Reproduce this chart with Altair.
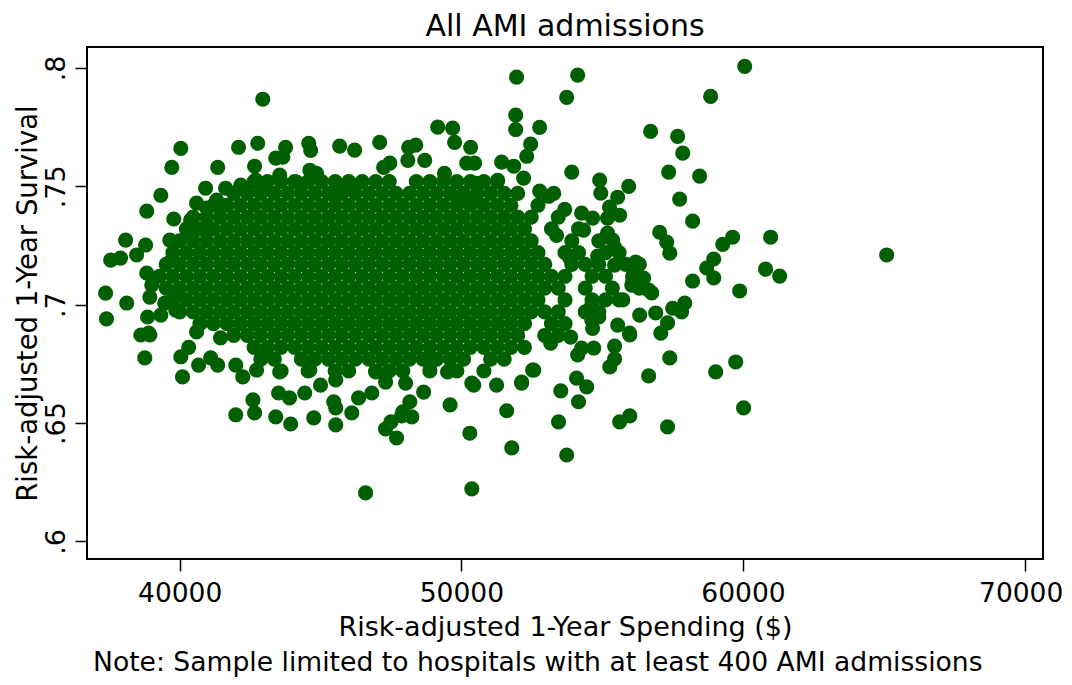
import altair as alt
import pandas as pd

FONT = "DejaVu Sans"
GREEN = "#005f00"

title_text = "All AMI admissions"
x_title = "Risk-adjusted 1-Year Spending ($)"
y_title = "Risk-adjusted 1-Year Survival"
note_text = "Note: Sample limited to hospitals with at least 400 AMI admissions"

x_ticks = [40000, 50000, 60000, 70000]
y_ticks = [0.6, 0.65, 0.7, 0.75, 0.8]

# dense core of the cloud, read row by row: (survival, [spending ...])
core_rows = [
    (0.752, [42640, 43120, 43600, 44080, 44560, 45040, 45520, 46000, 46480, 46960, 47440,
             48400, 48880, 49360, 49840, 50320, 50800, 51280]),
    (0.747, [41920, 42400, 42880, 43360, 43840, 44320, 44800, 45280, 45760, 46240, 46720,
             47200, 47680, 48160, 48640, 49120, 49600, 50080, 50560, 51040, 51520, 52000]),
    (0.742, [41200, 41680, 42160, 42640, 43120, 43600, 44080, 44560, 45040, 45520, 46000, 46480,
             46960, 47440, 47920, 48400, 48880, 49360, 49840, 50320, 50800, 51280, 51760, 52720]),
    (0.737, [40480, 40960, 41440, 41920, 42400, 42880, 43360, 43840, 44320, 44800, 45280, 45760, 46240,
             46720, 47200, 47680, 48160, 48640, 49120, 49600, 50080, 50560, 51040, 51520, 52000, 52480,
             53440]),
    (0.732, [40240, 40720, 41200, 41680, 42160, 42640, 43120, 43600, 44080, 44560, 45040, 45520, 46000,
             46480, 46960, 47440, 47920, 48400, 48880, 49360, 49840, 50320, 50800, 51280, 51760, 52240,
             53200, 54160]),
    (0.727, [40000, 40480, 40960, 41440, 41920, 42400, 42880, 43360, 43840, 44320, 44800, 45280, 45760,
             46240, 46720, 47200, 47680, 48160, 48640, 49120, 49600, 50080, 50560, 51040, 51520, 52000,
             52480, 53920, 54880]),
    (0.722, [39760, 40240, 40720, 41200, 41680, 42160, 42640, 43120, 43600, 44080, 44560, 45040, 45520,
             46000, 46480, 46960, 47440, 47920, 48400, 48880, 49360, 49840, 50320, 50800, 51280, 51760,
             52240, 52720, 53680, 54160, 55120, 55600]),
    (0.717, [39520, 40000, 40480, 40960, 41440, 41920, 42400, 42880, 43360, 43840, 44320, 44800, 45280,
             45760, 46240, 46720, 47200, 47680, 48160, 48640, 49120, 49600, 50080, 50560, 51040, 51520,
             52000, 52480, 52960, 53920, 54400, 54880, 55840, 56320]),
    (0.712, [39280, 39760, 40240, 40720, 41200, 41680, 42160, 42640, 43120, 43600, 44080, 44560, 45040,
             45520, 46000, 46480, 46960, 47440, 47920, 48400, 48880, 49360, 49840, 50320, 50800, 51280,
             51760, 52240, 52720, 53200, 53680, 54640, 55120, 56080]),
    (0.707, [39520, 40000, 40480, 40960, 41440, 41920, 42400, 42880, 43360, 43840, 44320, 44800, 45280,
             45760, 46240, 46720, 47200, 47680, 48160, 48640, 49120, 49600, 50080, 50560, 51040, 51520,
             52000, 52480, 52960, 53440, 54400, 55360, 56320]),
    (0.702, [39760, 40240, 40720, 41200, 41680, 42160, 42640, 43120, 43600, 44080, 44560, 45040, 45520,
             46000, 46480, 46960, 47440, 47920, 48400, 48880, 49360, 49840, 50320, 50800, 51280, 51760,
             52240, 52720, 53680, 54640, 55120, 55600]),
    (0.697, [40000, 40480, 40960, 41440, 41920, 42400, 42880, 43360, 43840, 44320, 44800, 45280, 45760,
             46240, 46720, 47200, 47680, 48160, 48640, 49120, 49600, 50080, 50560, 51040, 51520, 52000,
             52480, 52960, 53440, 54400, 54880]),
    (0.692, [40720, 41200, 41680, 42160, 42640, 43120, 43600, 44080, 44560, 45040, 45520, 46000, 46480,
             46960, 47440, 47920, 48400, 48880, 49360, 49840, 50320, 50800, 51280, 51760, 52240, 53200,
             53680]),
    (0.687, [41920, 42400, 42880, 43360, 43840, 44320, 44800, 45280, 45760, 46240, 46720, 47200, 47680,
             48160, 48640, 49120, 49600, 50080, 50560, 51040, 51520, 52000, 52960, 53440]),
    (0.682, [42640, 43120, 43600, 44080, 44560, 45040, 45520, 46000, 46480, 46960, 47440, 47920, 48400,
             48880, 49360, 49840, 50320, 50800, 51280, 51760, 52240]),
    (0.677, [42880, 43360, 44320, 44800, 45280, 45760, 46240, 46720, 47200, 47680, 48160, 48640, 49120,
             49600, 50080, 51040, 51520]),
    (0.672, [43600, 44560, 45520, 46000, 46960, 47440, 47920, 48880, 49840, 50800]),
]

# scattered hospitals around the core: (spending, survival)
fringe = [
    (60060, 0.8007), (54130, 0.7970), (51960, 0.7961), (42950, 0.7868), (53740, 0.7876), (58850, 0.7880),
    (51930, 0.7801), (52780, 0.7749), (51930, 0.7740), (52460, 0.7678), (52320, 0.7627),
    (49160, 0.7750), (49690, 0.7746), (49760, 0.7686), (50330, 0.7665),
    (56720, 0.7732), (57680, 0.7711), (57860, 0.7640), (57360, 0.7560), (58460, 0.7543), (57750, 0.7446),
    (58210, 0.7353),
    (53920, 0.7560), (54910, 0.7526), (55940, 0.7500), (54950, 0.7471), (55550, 0.7454), (53100, 0.7458),
    (53670, 0.7403), (55260, 0.7412), (55620, 0.7378), (54270, 0.7387), (54660, 0.7366), (55190, 0.7366),
    (54340, 0.7315), (53380, 0.7293), (55190, 0.7302), (55370, 0.7273), (55440, 0.7243),
    (57040, 0.7306), (57290, 0.7264), (57400, 0.7218),
    (59630, 0.7285), (59280, 0.7255), (60980, 0.7285), (58960, 0.7193), (58710, 0.7155), (58960, 0.7113),
    (60800, 0.7150), (61300, 0.7121), (65100, 0.7210), (58210, 0.7100), (59880, 0.7058),
    (57930, 0.7007), (57820, 0.6970), (57500, 0.6985), (57320, 0.6923), (57080, 0.6880),
    (56330, 0.6956), (56900, 0.6965), (55970, 0.6880), (55550, 0.6914), (54660, 0.6900),
    (56760, 0.7050), (56470, 0.7112), (56080, 0.7096), (55730, 0.7020), (54880, 0.6948), (54630, 0.6998),
    (56190, 0.7180), (53850, 0.7197), (54840, 0.7205), (55440, 0.7167), (56050, 0.7083), (56650, 0.7062),
    (54630, 0.6935), (55440, 0.6825), (55440, 0.6771), (54700, 0.6817), (54270, 0.6817), (54130, 0.6788),
    (57400, 0.6775), (59740, 0.6758), (59030, 0.6716), (56650, 0.6699), (55270, 0.6737),
    (54090, 0.6690), (54450, 0.6653), (53530, 0.6636), (54160, 0.6590), (53450, 0.6505),
    (55620, 0.6505), (55980, 0.6530), (57320, 0.6484), (53740, 0.6365), (60020, 0.6564),
    (52530, 0.6724), (53170, 0.6838), (53880, 0.6863), (55980, 0.6872), (52140, 0.6673),
    (51790, 0.6395), (51610, 0.6552), (50440, 0.6660), (51250, 0.6660), (49510, 0.6716), (48910, 0.6754),
    (50300, 0.6457), (50370, 0.6222), (49600, 0.6577),
    (48240, 0.6526), (47880, 0.6530), (47500, 0.6505), (47310, 0.6475), (47700, 0.6437), (48170, 0.6590),
    (47920, 0.6547), (48020, 0.6669), (48660, 0.6631), (47310, 0.6673), (46960, 0.6716),
    (46600, 0.6205), (46350, 0.6606), (46820, 0.6627), (46110, 0.6543),
    (45540, 0.6682), (45470, 0.6590), (45540, 0.6564), (45540, 0.6492), (45000, 0.6660), (44620, 0.6724),
    (44760, 0.6522), (44440, 0.6627), (43940, 0.6496), (43900, 0.6606), (43510, 0.6627), (43410, 0.6526),
    (43550, 0.6716), (43090, 0.6788), (42730, 0.6724), (42600, 0.6598), (42660, 0.6543), (41990, 0.6535),
    (42240, 0.6695), (41990, 0.6745), (41350, 0.6745), (41100, 0.6775), (40670, 0.6745), (40320, 0.6820),
    (40040, 0.6780), (40100, 0.6695), (40600, 0.6885), (41450, 0.6860),
    (38760, 0.6775), (38620, 0.6872), (38940, 0.6872),
    (40040, 0.7660), (39720, 0.7580), (39330, 0.7462), (38830, 0.7395), (39790, 0.7362),
    (38080, 0.7273), (37550, 0.7188), (37900, 0.7197), (38470, 0.7210), (38790, 0.7252), (39650, 0.7273),
    (40280, 0.7293), (41030, 0.7323), (40600, 0.7429), (40960, 0.7408), (41310, 0.7442), (40920, 0.7492),
    (41350, 0.7580), (42090, 0.7665), (42770, 0.7682), (42660, 0.7585), (43410, 0.7619), (43760, 0.7665),
    (44580, 0.7682), (44650, 0.7652), (45680, 0.7670), (46210, 0.7653), (47100, 0.7686), (48130, 0.7665),
    (48380, 0.7674), (48700, 0.7610), (51860, 0.7585), (51430, 0.7602), (50470, 0.7598), (50190, 0.7598),
    (50510, 0.7513), (50510, 0.7450), (49900, 0.7442), (49400, 0.7555), (47460, 0.7598), (48100, 0.7610),
    (47240, 0.7580), (44620, 0.7568), (44150, 0.7518), (44860, 0.7555), (45720, 0.7475), (46110, 0.7496),
    (45360, 0.7471), (43550, 0.7547), (43660, 0.7623), (42700, 0.7526), (42170, 0.7505), (42910, 0.7488),
    (41630, 0.7492), (41450, 0.7408), (40390, 0.7357),
    (39720, 0.7188), (38830, 0.7133), (39010, 0.7083), (38940, 0.7032), (39790, 0.7032), (39470, 0.7007),
    (39860, 0.6977), (39330, 0.6956), (38860, 0.6948), (37370, 0.7049), (37400, 0.6940), (38120, 0.7007),
    (38900, 0.6880),
    (52210, 0.7535), (52780, 0.7480), (53280, 0.7470), (51290, 0.7525),
    (50370, 0.6669), (52140, 0.6669), (52570, 0.6724),
]

spend = []
surv = []
for yv, row in core_rows:
    for xv in row:
        spend.append(xv)
        surv.append(yv)
for xv, yv in fringe:
    spend.append(xv)
    surv.append(yv)

df = pd.DataFrame({"spend": spend, "surv": surv})

W, H = 956, 512

points = alt.Chart(df).mark_circle(size=230, color=GREEN, opacity=1).encode(
    x=alt.X(
        "spend:Q",
        scale=alt.Scale(domain=[36709, 70650], nice=False, zero=False),
        axis=alt.Axis(
            values=x_ticks, format="d", title=x_title, grid=False, domain=False,
            tickColor="black", tickSize=12, tickWidth=1.5,
            labelFont=FONT, labelFontSize=26.5, labelColor="black",
            labelBaseline="alphabetic", labelPadding=30, labelFlush=False, labelOverlap=False,
            labelOffset={"condition": {"test": "datum.value == 70000", "value": -4}, "value": 0},
            titleFont=FONT, titleFontSize=27, titleFontWeight="normal", titleColor="black",
            titleX=W / 2, titleY=76, titleAlign="center", titleBaseline="alphabetic",
        ),
    ),
    y=alt.Y(
        "surv:Q",
        scale=alt.Scale(domain=[0.59257, 0.80886], nice=False, zero=False),
        axis=alt.Axis(
            values=y_ticks, labelExpr="substring(format(datum.value, '.2~f'), 1)",
            title=y_title, grid=False, domain=False,
            tickColor="black", tickSize=12, tickWidth=1.5,
            labelFont=FONT, labelFontSize=27, labelColor="black",
            labelAngle=270, labelAlign="center", labelBaseline="alphabetic",
            labelPadding=11, labelFlush=False, labelOverlap=False,
            titleFont=FONT, titleFontSize=27.5, titleFontWeight="normal", titleColor="black",
            titleAngle=270, titleX=-51, titleY=H / 2, titleAlign="center", titleBaseline="alphabetic",
        ),
    ),
)

texts = pd.DataFrame({"t": [title_text, note_text], "kind": ["title", "note"]})

title_mark = alt.Chart(texts).transform_filter(alt.datum.kind == "title").mark_text(
    font=FONT, fontSize=30, color="black", align="center", baseline="alphabetic"
).encode(x=alt.value(W / 2), y=alt.value(-11), text="t:N")

note_mark = alt.Chart(texts).transform_filter(alt.datum.kind == "note").mark_text(
    font=FONT, fontSize=26.6, color="black", align="left", baseline="alphabetic"
).encode(x=alt.value(6), y=alt.value(624), text="t:N")

chart = alt.layer(points, title_mark, note_mark).properties(
    width=W,
    height=H,
    autosize=alt.AutoSizeParams(type="none"),
    padding={"left": 79, "top": 39, "right": 21, "bottom": 118},
).configure_view(stroke="black", strokeWidth=2)

chart.save("out.html", embed_options={"renderer": "svg", "actions": False})
